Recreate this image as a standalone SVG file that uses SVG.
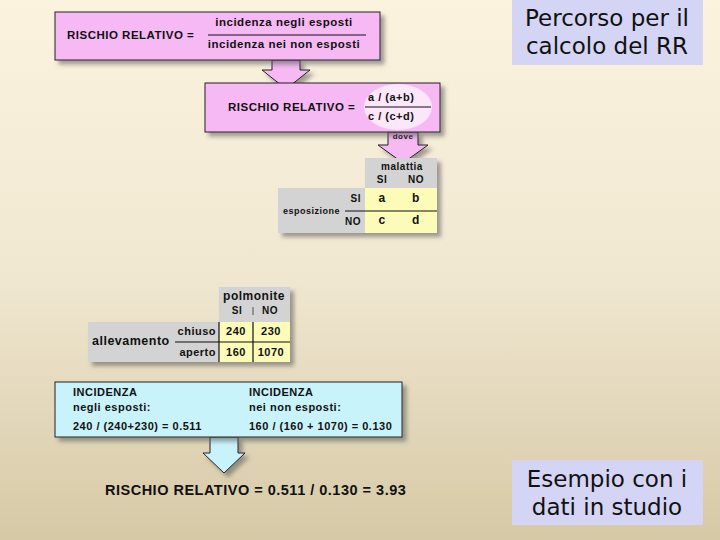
<svg xmlns="http://www.w3.org/2000/svg" width="720" height="540" viewBox="0 0 720 540">
<defs>
<linearGradient id="bg" x1="0" y1="0" x2="0" y2="1">
<stop offset="0" stop-color="#FCF3DF"/>
<stop offset="0.5" stop-color="#F1E8D2"/>
<stop offset="1" stop-color="#D6C9A6"/>
</linearGradient>
<filter id="sh" x="-10%" y="-10%" width="130%" height="140%">
<feDropShadow dx="4" dy="4" stdDeviation="2" flood-color="#555" flood-opacity="0.55"/>
</filter>
<style>
.t{font-family:"Liberation Sans",Arial,sans-serif;font-weight:bold;fill:#111;letter-spacing:0.5px;}
.lab{font-family:"DejaVu Sans",Verdana,sans-serif;font-size:23px;fill:#111;text-anchor:middle;}
.pink{fill:#F7B9F4;stroke:#222;stroke-width:1;}
.cyan{fill:#C9F3FA;stroke:#222;stroke-width:1;}
.gray{fill:#D3D3D3;}
.yel{fill:#FCFCB8;}
.ln{stroke:#111;stroke-width:1.2;fill:none;}
</style>
</defs>
<rect width="720" height="540" fill="url(#bg)"/>

<g id="labels">
<rect x="512" y="0" width="191" height="65" fill="#D4D4F4"/>
<text class="lab" x="607" y="26">Percorso per il</text>
<text class="lab" x="607" y="54">calcolo del RR</text>
<rect x="512" y="460" width="191" height="65" fill="#D4D4F4"/>
<text class="lab" x="607" y="487">Esempio con i</text>
<text class="lab" x="607" y="515">dati in studio</text>
</g>

<g id="connectors">
<path class="pink" filter="url(#sh)" d="M272,60 L300,60 L300,70 L310,70 L286,89 L262,70 L272,70 Z"/>
<path class="pink" filter="url(#sh)" d="M388,132 L418,132 L418,145 L428,145 L403,163 L378,145 L388,145 Z"/>
<text class="t" x="403" y="139" font-size="8" font-weight="normal" text-anchor="middle" fill="#333">dove</text>
<path class="cyan" filter="url(#sh)" d="M210,437 L238,437 L238,453 L245,453 L224,473 L203,453 L210,453 Z"/>
</g>

<g id="box1">
<rect class="pink" x="55" y="12" width="325" height="48" filter="url(#sh)"/>
<text class="t" x="67" y="39" font-size="11.5">RISCHIO RELATIVO  =</text>
<text class="t" x="284" y="26" font-size="11.5" text-anchor="middle">incidenza negli esposti</text>
<line class="ln" x1="208" y1="35" x2="366" y2="35"/>
<text class="t" x="284" y="48" font-size="11.5" text-anchor="middle">incidenza nei non esposti</text>
</g>

<g id="box2">
<rect class="pink" x="205" y="83" width="235" height="49" filter="url(#sh)"/>
<text class="t" x="228" y="111" font-size="11.5">RISCHIO RELATIVO  =</text>
<ellipse cx="398" cy="107" rx="34" ry="23" fill="#FBE6FA"/>
<text class="t" x="368" y="101" font-size="11">a  /  (a+b)</text>
<line class="ln" x1="365" y1="107" x2="431" y2="107"/>
<text class="t" x="368" y="120" font-size="11">c  /  (c+d)</text>
</g>

<g id="table1">
<g filter="url(#sh)">
<rect class="gray" x="365" y="158" width="72" height="30"/>
<rect class="gray" x="278" y="188" width="87" height="45"/>
<rect class="yel" x="365" y="188" width="72" height="45"/>
</g>
<text class="t" x="402" y="170" font-size="10" font-weight="normal" text-anchor="middle">malattia</text>
<text class="t" x="382" y="183" font-size="10" font-weight="normal" text-anchor="middle">SI</text>
<text class="t" x="416" y="183" font-size="10" font-weight="normal" text-anchor="middle">NO</text>
<text class="t" x="283" y="214" font-size="9">esposizione</text>
<text class="t" x="361" y="202" font-size="10" text-anchor="end">SI</text>
<text class="t" x="361" y="225" font-size="10" text-anchor="end" font-weight="normal">NO</text>
<line class="ln" x1="345" y1="211" x2="437" y2="211"/>
<text class="t" x="382" y="202" font-size="12" text-anchor="middle">a</text>
<text class="t" x="416" y="202" font-size="12" text-anchor="middle">b</text>
<text class="t" x="382" y="224" font-size="12" text-anchor="middle">c</text>
<text class="t" x="416" y="224" font-size="12" text-anchor="middle">d</text>
</g>

<g id="table2">
<g filter="url(#sh)">
<rect class="gray" x="219" y="287" width="71" height="35"/>
<rect class="gray" x="88" y="322" width="131" height="40"/>
<rect class="yel" x="219" y="322" width="71" height="40"/>
</g>
<text class="t" x="254" y="300" font-size="12" text-anchor="middle">polmonite</text>
<text class="t" x="237" y="314" font-size="10" font-weight="normal" text-anchor="middle">SI</text>
<line x1="253" y1="307" x2="253" y2="315" stroke="#333" stroke-width="0.8"/>
<text class="t" x="270" y="314" font-size="10" font-weight="normal" text-anchor="middle">NO</text>
<text class="t" x="92" y="345" font-size="12.5">allevamento</text>
<text class="t" x="216" y="335" font-size="11" text-anchor="end">chiuso</text>
<text class="t" x="216" y="356" font-size="11" text-anchor="end">aperto</text>
<line class="ln" x1="175" y1="342" x2="290" y2="342"/>
<line class="ln" x1="219" y1="322" x2="219" y2="362"/>
<line class="ln" x1="253" y1="322" x2="253" y2="362"/>
<text class="t" x="236" y="335" font-size="11" text-anchor="middle">240</text>
<text class="t" x="271" y="335" font-size="11" text-anchor="middle">230</text>
<text class="t" x="236" y="356" font-size="11" text-anchor="middle">160</text>
<text class="t" x="271" y="356" font-size="11" text-anchor="middle">1070</text>
</g>

<g id="box3">
<rect class="cyan" x="55" y="382" width="347" height="55" filter="url(#sh)"/>
<text class="t" x="73" y="396" font-size="11">INCIDENZA</text>
<text class="t" x="73" y="411" font-size="11">negli esposti:</text>
<text class="t" x="73" y="430" font-size="11">240 / (240+230) = 0.511</text>
<text class="t" x="249" y="396" font-size="11">INCIDENZA</text>
<text class="t" x="249" y="411" font-size="11">nei non esposti:</text>
<text class="t" x="249" y="430" font-size="11">160 / (160 + 1070) = 0.130</text>
</g>

<g id="result">
<text class="t" x="105" y="495" font-size="14.5" letter-spacing="0.2">RISCHIO RELATIVO = 0.511 / 0.130 = 3.93</text>
</g>
</svg>
